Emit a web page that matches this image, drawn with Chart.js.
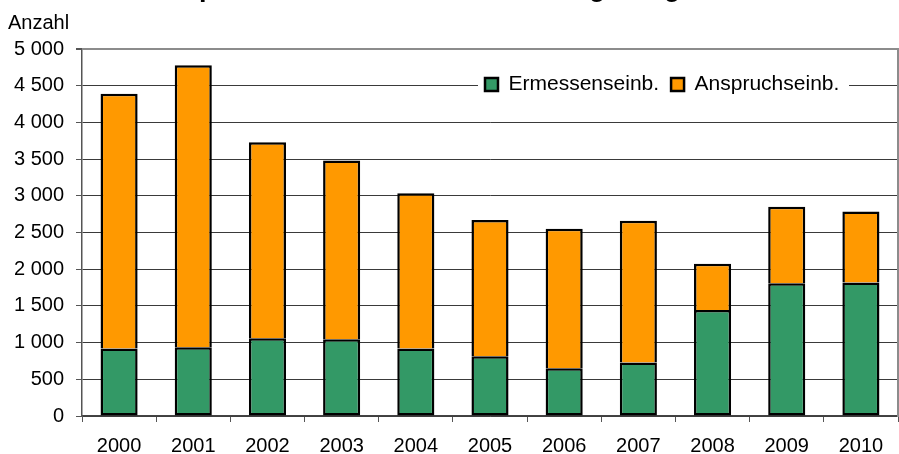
<!DOCTYPE html>
<html>
<head>
<meta charset="utf-8">
<script src="https://cdn.jsdelivr.net/npm/chart.js@4.4.1/dist/chart.umd.min.js"></script>
<style>
  body { margin: 0; background: #fff; overflow: hidden; }
  #wrap { position: relative; width: 899px; height: 454px; }
  #head {
    position: absolute; top: -26px; left: 148px; white-space: nowrap;
    font: bold 27px/27px "Liberation Sans", Arial, sans-serif; color: #000;
  }
</style>
</head>
<body>
<div id="wrap">
  <canvas id="chart"></canvas>
  <div id="head">Anspruchs- und Ermessenseinbürgerungen seit 2000</div>
</div>
<script>
const years = ['2000', '2001', '2002', '2003', '2004', '2005', '2006', '2007', '2008', '2009', '2010'];
const ermessen = [920, 935, 1060, 1045, 920, 815, 650, 730, 1445, 1810, 1820];
const anspruch = [3470, 3845, 2670, 2435, 2115, 1855, 1900, 1930, 630, 1040, 965];
const seriesNames = ['Ermessenseinb.', 'Anspruchseinb.'];
const yMax = 5000;
const yStep = 500;

const font = { family: '"Liberation Sans", Arial, sans-serif', size: 20 };

function fmt(v) {
  return String(v).replace(/\B(?=(\d{3})+(?!\d))/g, ' ');
}

// legend sits inside the plot, on a white patch over the 4500 line
const legendInside = {
  id: 'legendInside',
  afterLayout(chart) {
    const lg = chart.legend, a = chart.chartArea;
    lg.left = a.right - 425;
    lg.right = a.right - 20;
    lg.top = 62;
    lg.bottom = 104;
  },
  beforeDatasetsDraw(chart) {
    const lg = chart.legend, ctx = chart.ctx;
    ctx.save();
    ctx.fillStyle = '#fff';
    ctx.fillRect(lg.left + 5, 72, lg.right - lg.left - 34, 26);
    ctx.restore();
    lg.draw();
  }
};

const ctx = document.getElementById('chart').getContext('2d');
new Chart(ctx, {
  type: 'bar',
  data: {
    labels: years,
    datasets: [
      {
        label: seriesNames[0],
        data: ermessen,
        backgroundColor: '#339966',
        borderColor: '#000',
        borderWidth: 2.5,
        borderSkipped: false
      },
      {
        label: seriesNames[1],
        data: anspruch,
        backgroundColor: '#FF9900',
        borderColor: '#000',
        borderWidth: 2.5
      }
    ]
  },
  options: {
    responsive: true,
    maintainAspectRatio: false,
    animation: false,
    layout: { padding: { left: 8, right: 0, top: 0, bottom: 0 } },
    datasets: { bar: { categoryPercentage: 1, barPercentage: 0.5 } },
    plugins: {
      title: {
        display: true,
        text: 'Anzahl',
        align: 'start',
        color: '#000',
        font: { family: font.family, size: 20, weight: 'normal' },
        padding: { top: 11, bottom: 13 }
      },
      legend: {
        display: true,
        position: 'top',
        align: 'start',
        maxHeight: 1,
        labels: {
          color: '#000',
          font: { family: font.family, size: 21 },
          boxWidth: 13,
          boxHeight: 13,
          padding: 12
        }
      },
      tooltip: { enabled: false }
    },
    scales: {
      x: {
        stacked: true,
        grid: { drawOnChartArea: false, drawTicks: true, tickLength: 6, color: '#555' },
        border: { color: '#444', width: 1.5 },
        ticks: { color: '#000', font: font, padding: 12, maxRotation: 0 },
        afterFit(scale) { scale.height = 38; }
      },
      y: {
        stacked: true,
        min: 0,
        max: yMax,
        grid: {
          color: c => c.tick && c.tick.value === yMax ? '#8c8c8c' : '#3a3a3a',
          lineWidth: c => c.tick && c.tick.value === yMax ? 2 : 1,
          tickColor: '#555',
          tickLength: 6
        },
        border: { color: '#555', width: 1.5 },
        ticks: {
          stepSize: yStep,
          color: '#000',
          font: font,
          padding: 12,
          callback: v => fmt(v)
        },
        afterFit(scale) { scale.width = 74; }
      },
      y2: {
        position: 'right',
        min: 0,
        max: yMax,
        grid: { drawOnChartArea: false, drawTicks: false },
        border: { color: '#8c8c8c', width: 2 },
        ticks: { display: false },
        afterFit(scale) { scale.width = 1; }
      }
    }
  },
  plugins: [legendInside]
});
</script>
</body>
</html>
